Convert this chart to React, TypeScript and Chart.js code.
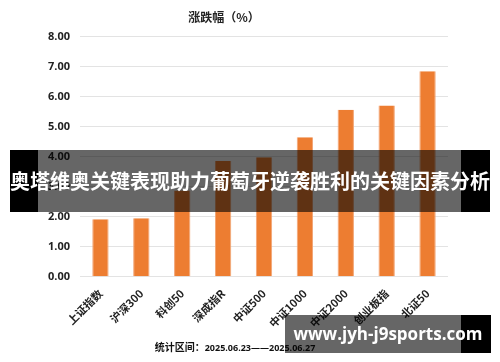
import React, { useEffect, useRef } from "react";
import { Chart, registerables } from "chart.js";

Chart.register(...registerables);

const categories = ["上证指数", "沪深300", "科创50", "深成指R", "中证500", "中证1000", "中证2000", "创业板指", "北证50"];
const changePct = [1.91, 1.95, 2.87, 3.85, 3.98, 4.64, 5.56, 5.70, 6.84];
const chartTitle = "涨跌幅（%）";
const footerLabel = "统计区间：";
const footerDates = "2025.06.23——2025.06.27";
const bannerText = "奥塔维奥关键表现助力葡萄牙逆袭胜利的关键因素分析";
const watermarkText = "www.jyh-j9sports.com";

const CJK = '"Noto Sans CJK SC", "Microsoft YaHei", sans-serif';
const NUM = '"Open Sans", "Noto Sans", sans-serif';

export default function App() {
  const ref = useRef<HTMLCanvasElement | null>(null);
  useEffect(() => {
    if (!ref.current) return;
    const chart = new Chart(ref.current, {
      type: "bar",
      data: {
        labels: categories,
        datasets: [
          {
            data: changePct,
            backgroundColor: "#ED7D31",
            borderColor: "#F2A474",
            borderWidth: { left: 1, right: 1, top: 0, bottom: 0 },
            categoryPercentage: 0.8,
            barPercentage: 0.5,
          },
        ],
      },
      options: {
        animation: false,
        responsive: false,
        maintainAspectRatio: false,
        layout: { padding: { left: 0, right: 52, top: 10, bottom: 30 } },
        plugins: {
          legend: { display: false },
          tooltip: { enabled: false },
          title: {
            display: true,
            text: chartTitle,
            color: "#222",
            font: { family: CJK, size: 12, weight: "bold" },
            padding: { top: 0, bottom: 12 },
          },
        },
        scales: {
          x: {
            grid: { display: false },
            border: { display: false },
            ticks: {
              color: "#222",
              font: { family: CJK, size: 11, weight: "bold" },
              maxRotation: 45,
              minRotation: 45,
              padding: 2,
            },
          },
          y: {
            min: 0,
            max: 8,
            afterFit: (s: any) => {
              s.width = 80;
            },
            grid: { color: "#E3E3E3", drawTicks: false },
            border: { display: false },
            ticks: {
              stepSize: 1,
              color: "#222",
              padding: 10,
              font: { family: NUM, size: 11, weight: "bold" },
              callback: (v: any) => Number(v).toFixed(2),
            },
          },
        },
      },
    });
    return () => chart.destroy();
  }, []);

  return (
    <div style={{ position: "absolute", left: 0, top: 0, width: 500, height: 362, background: "#fff", overflow: "hidden" }}>
      <canvas ref={ref} width={500} height={362} style={{ position: "absolute", left: 0, top: 0, width: 500, height: 362 }} />
      <div
        style={{
          position: "absolute",
          left: 0,
          width: 470,
          top: 340,
          textAlign: "center",
          fontSize: 10,
          color: "#111",
          fontFamily: CJK,
          fontWeight: "bold",
          lineHeight: "14px",
          whiteSpace: "nowrap",
        }}
      >
        <span>{footerLabel}</span>
        <span style={{ fontFamily: NUM, fontWeight: "bold", fontSize: 9 }}>{footerDates}</span>
      </div>
      {/* banner overlay */}
      <div style={{ position: "absolute", left: 10, top: 150, width: 28, height: 62, background: "#000" }} />
      <div style={{ position: "absolute", left: 461, top: 150, width: 29, height: 62, background: "#000" }} />
      <div style={{ position: "absolute", left: 38, top: 150, width: 423, height: 62, background: "rgba(0,0,0,0.6)" }} />
      <div
        style={{
          position: "absolute",
          left: 10,
          top: 150,
          width: 480,
          height: 62,
          lineHeight: "62px",
          textAlign: "center",
          color: "#fff",
          fontFamily: CJK,
          fontWeight: "bold",
          fontSize: 20,
          whiteSpace: "nowrap",
        }}
      >
        {bannerText}
      </div>
      {/* watermark */}
      <div style={{ position: "absolute", left: 461, top: 315, width: 30, height: 38, background: "#000" }} />
      <div style={{ position: "absolute", left: 285, top: 315, width: 176, height: 38, background: "rgba(0,0,0,0.6)" }} />
      <div
        style={{
          position: "absolute",
          left: 285,
          top: 315,
          width: 206,
          height: 38,
          lineHeight: "38px",
          textAlign: "center",
          color: "#fff",
          fontFamily: NUM,
          fontWeight: "bold",
          fontSize: 17,
          whiteSpace: "nowrap",
        }}
      >
        {watermarkText}
      </div>
    </div>
  );
}
